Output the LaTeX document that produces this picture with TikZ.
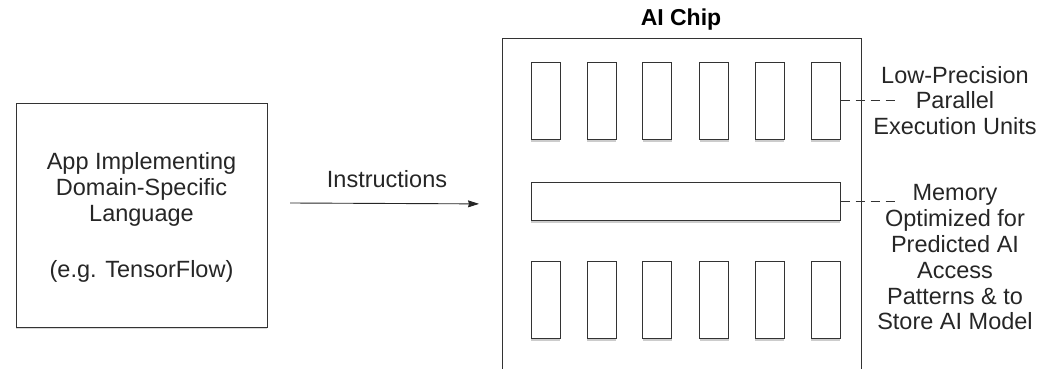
\documentclass[tikz,border=0pt]{standalone}
\usepackage{fontspec}
\setmainfont{Liberation Sans}
\usepackage{tikz}
\usetikzlibrary{shadows}
\usetikzlibrary{arrows.meta}

\tikzset{
  unitbox/.style={draw=black!80, line width=1pt, fill=white, minimum width=29pt, minimum height=76pt, inner sep=0pt,
    drop shadow={shadow xshift=0pt, shadow yshift=-3pt, fill=black!40, opacity=0.5}},
  labeltext/.style={align=center, font=\fontsize{23.5}{25.8}\selectfont, text=black!85, inner sep=0pt},
  leader/.style={draw=black!80, line width=0.9pt, dash pattern=on 9pt off 6pt}
}

\begin{document}
\begin{tikzpicture}[x=1pt, y=-1pt]
\useasboundingbox (0,0) rectangle (1055,369);

% application box
\node[draw=black!80, line width=1pt, fill=white, minimum width=251pt, minimum height=224pt, inner sep=0pt,
  drop shadow={shadow xshift=0pt, shadow yshift=-1.5pt, fill=black!30, opacity=0.5}] (app) at (141.5,215) {};
\node[labeltext] (apptext) at (141.5,217.5) {App Implementing\\Domain-Specific\\Language\\[30pt](e.g. TensorFlow)};

% chip outline
\node[draw=black!80, line width=1pt, minimum width=359pt, minimum height=331pt, inner sep=0pt, anchor=north west] (chip) at (502,38) {};
\node[font=\bfseries\fontsize{23}{25}\selectfont, inner sep=0pt] (chiptitle) at (681,20) {AI Chip};

% top row of execution units
\node[unitbox] (ut1) at (545.5,101) {};
\node[unitbox] (ut2) at (601.5,101) {};
\node[unitbox] (ut3) at (657,101) {};
\node[unitbox] (ut4) at (714,101) {};
\node[unitbox] (ut5) at (769.5,101) {};
\node[unitbox] (ut6) at (825.5,101) {};

% memory
\node[unitbox, minimum width=309pt, minimum height=38pt] (mem) at (685.5,201) {};

% bottom row of execution units
\node[unitbox, minimum height=77pt] (ub1) at (545.5,299.5) {};
\node[unitbox, minimum height=77pt] (ub2) at (601.5,299.5) {};
\node[unitbox, minimum height=77pt] (ub3) at (657,299.5) {};
\node[unitbox, minimum height=77pt] (ub4) at (714,299.5) {};
\node[unitbox, minimum height=77pt] (ub5) at (769.5,299.5) {};
\node[unitbox, minimum height=77pt] (ub6) at (825.5,299.5) {};

% labels on the right
\node[labeltext] (unitlabel) at (955,100.5) {Low-Precision\\Parallel\\Execution Units};
\node[labeltext] (memlabel) at (955,257.5) {Memory\\Optimized for\\Predicted AI\\Access\\Patterns \& to\\Store AI Model};
\coordinate (unitend) at (897,100);
\coordinate (memend) at (897,201);
\draw[leader] (ut6.east |- unitend) -- (unitend);
\draw[leader] (mem.east) -- (memend);

% instructions arrow
\coordinate (src) at (290,203);
\draw[line width=0.9pt, draw=black!85, -{Stealth[length=11pt, width=7pt, inset=1pt]}, shorten >=23pt] (src) -- (chip.west);
\node[labeltext] (instr) at (387,179) {Instructions};
\end{tikzpicture}
\end{document}
